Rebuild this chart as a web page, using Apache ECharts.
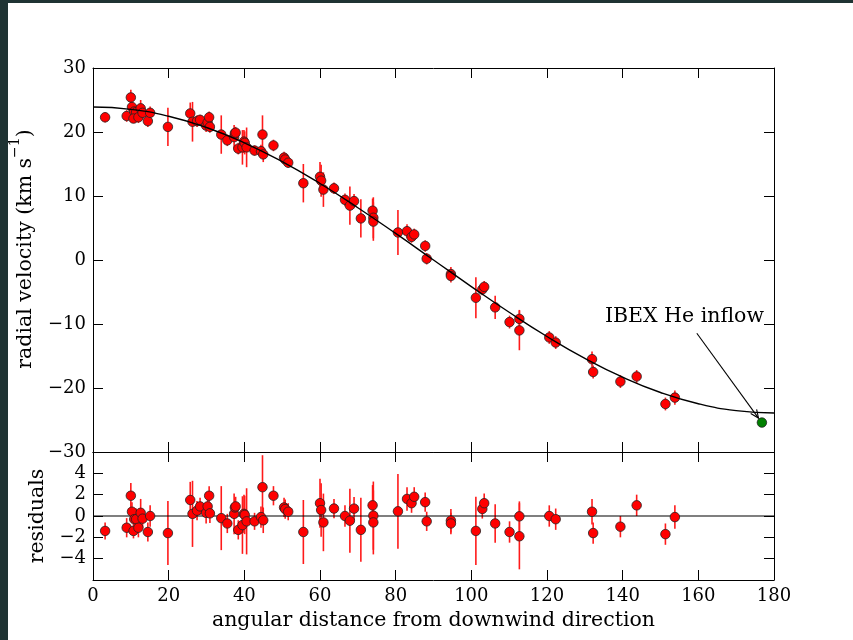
<!DOCTYPE html>
<html>
<head>
<meta charset="utf-8">
<script src="https://cdn.jsdelivr.net/npm/echarts@6.0.0/dist/echarts.min.js"></script>
<style>
html,body{margin:0;padding:0;background:#fff;}
#chart{width:853px;height:640px;}
</style>
</head>
<body>
<div id="chart"></div>
<script>
// ---- data ----
// angular distance (deg)
var angles = [3.2, 8.9, 10.0, 10.3, 10.9, 11.4, 10.7, 12.0, 12.6, 13.1, 14.5, 15.1, 19.8,
  25.7, 26.3, 27.5, 28.3, 29.9, 30.3, 30.7, 30.9, 33.9, 35.5, 37.3, 37.5, 37.7, 38.4,
  39.5, 39.9, 40.1, 40.6, 42.7, 44.4, 44.8, 45.0, 47.7, 50.5, 50.8, 51.6, 55.6, 60.0,
  60.3, 60.9, 63.7, 66.6, 67.9, 69.0, 70.8, 73.9, 74.1, 74.1, 80.6, 83.0, 84.2, 84.9,
  87.8, 88.2, 94.6, 94.6, 101.2, 102.9, 103.4, 106.3, 110.1, 112.7, 112.7, 120.6, 122.3,
  131.9, 132.2, 139.4, 143.7, 151.3, 153.8];
// radial velocity (km/s)
var velocity = [22.3, 22.5, 25.4, 23.9, 23.2, 23.1, 22.1, 22.3, 23.7, 23.0, 21.7, 23.0, 20.8,
  22.9, 21.6, 21.7, 21.9, 21.0, 21.5, 22.3, 20.8, 19.6, 18.7, 19.2, 19.8, 19.9, 17.4,
  17.6, 18.5, 18.3, 17.6, 17.1, 17.0, 19.6, 16.5, 17.9, 16.0, 15.7, 15.2, 12.0, 13.0,
  12.4, 11.0, 11.2, 9.4, 8.5, 9.2, 6.5, 7.7, 6.6, 6.0, 4.3, 4.5, 3.6, 4.0,
  2.2, 0.2, -2.2, -2.5, -5.9, -4.6, -4.2, -7.4, -9.7, -9.2, -11.0, -12.1, -12.9,
  -15.5, -17.5, -19.0, -18.2, -22.5, -21.5];
// residuals (km/s)
var residuals = [-1.4, -1.1, 1.9, 0.4, -0.3, -0.3, -1.4, -1.1, 0.3, -0.25, -1.5, 0.0, -1.6,
  1.5, 0.2, 0.5, 0.9, 0.3, 0.9, 1.9, 0.25, -0.2, -0.7, 0.2, 0.8, 0.9, -1.3,
  -0.85, 0.2, 0.1, -0.5, -0.5, -0.1, 2.7, -0.4, 1.9, 0.8, 0.65, 0.4, -1.5, 1.2,
  0.56, -0.6, 0.7, 0.0, -0.44, 0.69, -1.3, 1.0, 0.03, -0.6, 0.44, 1.6, 1.2, 1.8,
  1.3, -0.5, -0.44, -0.7, -1.4, 0.66, 1.2, -0.7, -1.5, -0.03, -1.9, 0.0, -0.3,
  0.4, -1.6, -1.0, 1.0, -1.7, -0.1];
// 1-sigma errors (km/s)
var errors = [0.8, 0.9, 1.2, 0.9, 1.0, 1.0, 0.7, 0.9, 1.3, 0.9, 0.9, 1.0, 3.0,
  1.7, 3.1, 0.9, 0.8, 1.0, 0.9, 0.9, 0.9, 3.0, 0.9, 1.9, 0.9, 0.9, 0.9,
  2.7, 1.8, 1.8, 3.1, 0.8, 1.0, 3.0, 1.2, 0.9, 0.9, 0.9, 0.8, 3.0, 2.3,
  2.5, 2.7, 0.9, 1.0, 3.0, 1.1, 3.0, 1.9, 3.2, 3.0, 3.5, 1.1, 0.9, 0.9,
  0.9, 0.9, 1.1, 1.0, 3.2, 0.9, 0.9, 1.8, 1.0, 1.4, 3.1, 1.0, 1.0,
  1.2, 1.0, 1.0, 1.0, 1.0, 1.1];
// model curve (read every 10 deg)
var modelAngles = [0, 10, 20, 30, 40, 50, 60, 70, 80, 90, 100, 110, 120, 130, 140, 150, 160, 170, 180];
var modelVel = [23.9, 23.54, 22.46, 20.70, 18.31, 15.36, 11.95, 8.17, 4.15, 0, -4.15, -8.17, -11.95,
  -15.36, -18.31, -20.70, -22.46, -23.54, -23.9];
// IBEX He inflow point
var ibexPoint = [176.8, -25.4];
var annotText = 'IBEX He inflow';
var annotTextAt = [135.3, -8.9];
var arrowFrom = [159.6, -11.45];
var arrowTo = [175.9, -24.7];
// tick labels
var xTicks = [0, 20, 40, 60, 80, 100, 120, 140, 160, 180];
var yMainTicks = [-30, -20, -10, 0, 10, 20, 30];
var yResTicks = [-4, -2, 0, 2, 4];
var zeroLine = [[0, 0], [180, 0]];

// ---- build ----
var FONT = 'DejaVu Serif';
var TITLE_SIZE = 20.5;
var mainPts = angles.map(function (a, i) { return [a, velocity[i]]; });
var mainErr = angles.map(function (a, i) { return [a, velocity[i], errors[i]]; });
var resPts = angles.map(function (a, i) { return [a, residuals[i]]; });
var resErr = angles.map(function (a, i) { return [a, residuals[i], errors[i]]; });
var modelPts = modelAngles.map(function (a, i) { return [a, modelVel[i]]; });

function minusFmt(v) { return String(v).replace('-', '\u2212'); }

function errRender(params, api) {
  var x = api.value(0), y = api.value(1), e = api.value(2);
  var p1 = api.coord([x, y - e]), p2 = api.coord([x, y + e]);
  return { type: 'line', shape: { x1: p1[0], y1: p1[1], x2: p2[0], y2: p2[1] },
    style: { stroke: '#ff1a1a', lineWidth: 1.6 } };
}

function xAxisDef(grid, pos, labels) {
  return {
    type: 'value', gridIndex: grid, position: pos, min: 0, max: 180, interval: 20,
    axisLine: { show: true, onZero: false, lineStyle: { color: '#000', width: 1 } },
    axisTick: { show: true, inside: true, length: 10, lineStyle: { color: '#000', width: 1 } },
    axisLabel: { show: labels, margin: 7, color: '#000', fontFamily: FONT, fontSize: 18,
      formatter: function (v) { return xTicks.indexOf(v) >= 0 ? minusFmt(v) : ''; } },
    splitLine: { show: false }
  };
}
function yAxisDef(grid, pos, labels, min, max, interval, ticks) {
  return {
    type: 'value', gridIndex: grid, position: pos, min: min, max: max, interval: interval,
    axisLine: { show: true, onZero: false, lineStyle: { color: '#000', width: 1 } },
    axisTick: { show: true, inside: true, length: 10, lineStyle: { color: '#000', width: 1 } },
    axisLabel: { show: labels, margin: 7, color: '#000', fontFamily: FONT, fontSize: 18,
      formatter: function (v) { return ticks.indexOf(v) >= 0 ? minusFmt(v) : ''; } },
    splitLine: { show: false }
  };
}

var chart = echarts.init(document.getElementById('chart'), null, { renderer: 'canvas' });
chart.setOption({
  animation: false,
  backgroundColor: '#fff',
  grid: [
    { left: 93, top: 68, width: 681, height: 384 },
    { left: 93, top: 452, width: 681, height: 128 }
  ],
  xAxis: [
    xAxisDef(0, 'bottom', false),
    xAxisDef(0, 'top', false),
    xAxisDef(1, 'bottom', true),
    xAxisDef(1, 'top', false)
  ],
  yAxis: [
    yAxisDef(0, 'left', true, -30, 30, 10, yMainTicks),
    yAxisDef(0, 'right', false, -30, 30, 10, yMainTicks),
    yAxisDef(1, 'left', true, -6, 6, 2, yResTicks),
    yAxisDef(1, 'right', false, -6, 6, 2, yResTicks)
  ],
  graphic: [
    { type: 'rect', left: 0, top: 0, shape: { width: 8, height: 640 }, style: { fill: '#1f3333' }, z: 100 },
    { type: 'rect', left: 0, top: 0, shape: { width: 853, height: 3 }, style: { fill: '#1f3333' }, z: 100 },
    { type: 'text', x: 22, y: 249, rotation: Math.PI / 2,
      style: { text: '{a|radial velocity (km s}{s|\u22121}{a|)}', fill: '#000',
        align: 'center', verticalAlign: 'middle',
        rich: {
          a: { fontFamily: FONT, fontSize: TITLE_SIZE, lineHeight: 28, verticalAlign: 'bottom', fill: '#000' },
          s: { fontFamily: FONT, fontSize: 14, lineHeight: 28, verticalAlign: 'top', fill: '#000' }
        } } },
    { type: 'text', x: 38, y: 516, rotation: Math.PI / 2,
      style: { text: 'residuals', fontFamily: FONT, fontSize: TITLE_SIZE, fill: '#000',
        align: 'center', verticalAlign: 'middle' } },
    { type: 'text', x: 433.5, y: 621,
      style: { text: 'angular distance from downwind direction', fontFamily: FONT, fontSize: TITLE_SIZE, fill: '#000',
        align: 'center', verticalAlign: 'middle' } }
  ],
  series: [
    { type: 'custom', xAxisIndex: 0, yAxisIndex: 0, data: mainErr, renderItem: errRender,
      encode: { x: 0, y: 1 }, z: 1, silent: true },
    { type: 'scatter', xAxisIndex: 0, yAxisIndex: 0, data: mainPts, symbolSize: 9.5, z: 3,
      itemStyle: { color: '#ff0000', borderColor: '#222', borderWidth: 0.8, opacity: 1 } },
    { type: 'line', xAxisIndex: 0, yAxisIndex: 0, data: modelPts, smooth: true, showSymbol: false,
      symbol: 'none', z: 4, lineStyle: { color: '#000', width: 1.4 } },
    { type: 'scatter', xAxisIndex: 0, yAxisIndex: 0, data: [ibexPoint], symbolSize: 9.5, z: 5,
      itemStyle: { color: '#008000', borderColor: '#222', borderWidth: 0.8, opacity: 1 } },
    { type: 'custom', xAxisIndex: 0, yAxisIndex: 0, data: [0], z: 6, silent: true,
      renderItem: function (params, api) {
        var a = api.coord(arrowFrom), b = api.coord(arrowTo), t = api.coord(annotTextAt);
        var ang = Math.atan2(b[1] - a[1], b[0] - a[0]);
        var L = 9, w = 0.42;
        var h1 = [b[0] - L * Math.cos(ang - w), b[1] - L * Math.sin(ang - w)];
        var h2 = [b[0] - L * Math.cos(ang + w), b[1] - L * Math.sin(ang + w)];
        return { type: 'group', children: [
          { type: 'line', shape: { x1: a[0], y1: a[1], x2: b[0], y2: b[1] }, style: { stroke: '#000', lineWidth: 1.1 } },
          { type: 'polyline', shape: { points: [h1, b, h2] }, style: { stroke: '#000', fill: null, lineWidth: 1.1 } },
          { type: 'text', x: t[0], y: t[1], style: { text: annotText, fontFamily: FONT, fontSize: TITLE_SIZE, fill: '#000',
            align: 'left', verticalAlign: 'middle' } }
        ] };
      } },
    { type: 'line', xAxisIndex: 2, yAxisIndex: 2, data: zeroLine, showSymbol: false, symbol: 'none', z: 2,
      lineStyle: { color: '#000', width: 1.2 } },
    { type: 'custom', xAxisIndex: 2, yAxisIndex: 2, data: resErr, renderItem: errRender,
      encode: { x: 0, y: 1 }, z: 1, silent: true },
    { type: 'scatter', xAxisIndex: 2, yAxisIndex: 2, data: resPts, symbolSize: 9.5, z: 3,
      itemStyle: { color: '#ff0000', borderColor: '#222', borderWidth: 0.8, opacity: 1 } }
  ]
});
</script>
</body>
</html>
